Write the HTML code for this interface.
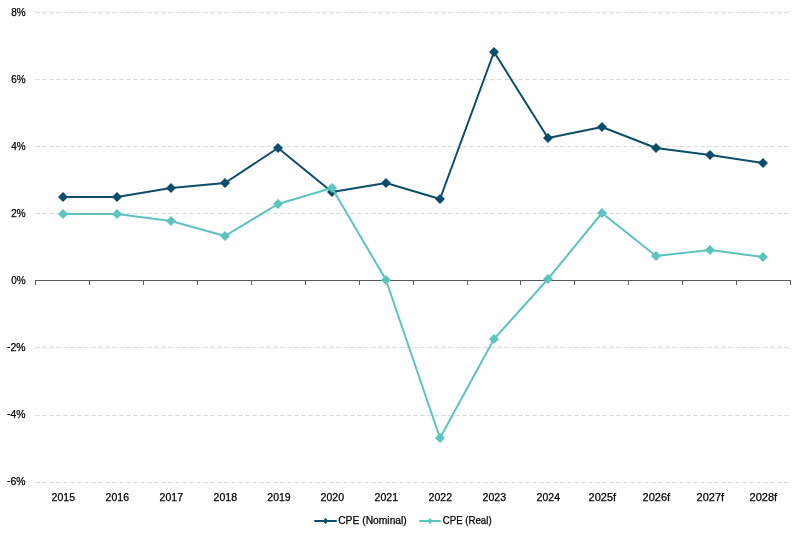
<!DOCTYPE html><html><head><meta charset="utf-8"><title>CPE chart</title><style>html,body{margin:0;padding:0;background:#fff}svg{display:block}text{font-family:"Liberation Sans",sans-serif;font-size:10.6px;fill:#000;stroke:#000;stroke-width:0.25px}</style></head><body>
<svg width="802" height="538" viewBox="0 0 802 538">
<rect width="802" height="538" fill="#fff"/>
<line x1="35.25" y1="12.5" x2="791" y2="12.5" stroke="#d9d9d9" stroke-width="1" stroke-dasharray="4.5 2.5"/>
<line x1="35.25" y1="79.5" x2="791" y2="79.5" stroke="#d9d9d9" stroke-width="1" stroke-dasharray="4.5 2.5"/>
<line x1="35.25" y1="146.5" x2="791" y2="146.5" stroke="#d9d9d9" stroke-width="1" stroke-dasharray="4.5 2.5"/>
<line x1="35.25" y1="213.5" x2="791" y2="213.5" stroke="#d9d9d9" stroke-width="1" stroke-dasharray="4.5 2.5"/>
<line x1="35.25" y1="347.5" x2="791" y2="347.5" stroke="#d9d9d9" stroke-width="1" stroke-dasharray="4.5 2.5"/>
<line x1="35.25" y1="415.5" x2="791" y2="415.5" stroke="#d9d9d9" stroke-width="1" stroke-dasharray="4.5 2.5"/>
<line x1="35.25" y1="482.5" x2="791" y2="482.5" stroke="#d9d9d9" stroke-width="1" stroke-dasharray="4.5 2.5"/>
<line x1="35.0" y1="280.5" x2="791.0" y2="280.5" stroke="#595959" stroke-width="1"/>
<line x1="35.50" y1="280.5" x2="35.50" y2="285.0" stroke="#595959" stroke-width="1"/>
<line x1="89.50" y1="280.5" x2="89.50" y2="285.0" stroke="#595959" stroke-width="1"/>
<line x1="143.50" y1="280.5" x2="143.50" y2="285.0" stroke="#595959" stroke-width="1"/>
<line x1="197.50" y1="280.5" x2="197.50" y2="285.0" stroke="#595959" stroke-width="1"/>
<line x1="251.50" y1="280.5" x2="251.50" y2="285.0" stroke="#595959" stroke-width="1"/>
<line x1="305.50" y1="280.5" x2="305.50" y2="285.0" stroke="#595959" stroke-width="1"/>
<line x1="359.50" y1="280.5" x2="359.50" y2="285.0" stroke="#595959" stroke-width="1"/>
<line x1="413.50" y1="280.5" x2="413.50" y2="285.0" stroke="#595959" stroke-width="1"/>
<line x1="467.50" y1="280.5" x2="467.50" y2="285.0" stroke="#595959" stroke-width="1"/>
<line x1="520.50" y1="280.5" x2="520.50" y2="285.0" stroke="#595959" stroke-width="1"/>
<line x1="574.50" y1="280.5" x2="574.50" y2="285.0" stroke="#595959" stroke-width="1"/>
<line x1="628.50" y1="280.5" x2="628.50" y2="285.0" stroke="#595959" stroke-width="1"/>
<line x1="682.50" y1="280.5" x2="682.50" y2="285.0" stroke="#595959" stroke-width="1"/>
<line x1="736.50" y1="280.5" x2="736.50" y2="285.0" stroke="#595959" stroke-width="1"/>
<line x1="790.50" y1="280.5" x2="790.50" y2="285.0" stroke="#595959" stroke-width="1"/>
<text x="25.6" y="16.0" text-anchor="end" textLength="14.4" lengthAdjust="spacingAndGlyphs">8%</text>
<text x="25.6" y="83.0" text-anchor="end" textLength="14.4" lengthAdjust="spacingAndGlyphs">6%</text>
<text x="25.6" y="150.0" text-anchor="end" textLength="14.4" lengthAdjust="spacingAndGlyphs">4%</text>
<text x="25.6" y="217.0" text-anchor="end" textLength="14.4" lengthAdjust="spacingAndGlyphs">2%</text>
<text x="25.6" y="284.0" text-anchor="end" textLength="14.4" lengthAdjust="spacingAndGlyphs">0%</text>
<text x="25.6" y="351.0" text-anchor="end" textLength="18.5" lengthAdjust="spacingAndGlyphs"><tspan dy="-1.2">-</tspan><tspan dy="1.2">2%</tspan></text>
<text x="25.6" y="418.0" text-anchor="end" textLength="18.5" lengthAdjust="spacingAndGlyphs"><tspan dy="-1.2">-</tspan><tspan dy="1.2">4%</tspan></text>
<text x="25.6" y="485.0" text-anchor="end" textLength="18.5" lengthAdjust="spacingAndGlyphs"><tspan dy="-1.2">-</tspan><tspan dy="1.2">6%</tspan></text>
<text x="63.3" y="501" text-anchor="middle" textLength="23.4" lengthAdjust="spacingAndGlyphs">2015</text>
<text x="117.3" y="501" text-anchor="middle" textLength="23.4" lengthAdjust="spacingAndGlyphs">2016</text>
<text x="171.3" y="501" text-anchor="middle" textLength="23.4" lengthAdjust="spacingAndGlyphs">2017</text>
<text x="225.3" y="501" text-anchor="middle" textLength="23.4" lengthAdjust="spacingAndGlyphs">2018</text>
<text x="279.0" y="501" text-anchor="middle" textLength="23.4" lengthAdjust="spacingAndGlyphs">2019</text>
<text x="332.3" y="501" text-anchor="middle" textLength="23.4" lengthAdjust="spacingAndGlyphs">2020</text>
<text x="386.3" y="501" text-anchor="middle" textLength="23.4" lengthAdjust="spacingAndGlyphs">2021</text>
<text x="440.3" y="501" text-anchor="middle" textLength="23.4" lengthAdjust="spacingAndGlyphs">2022</text>
<text x="494.3" y="501" text-anchor="middle" textLength="23.4" lengthAdjust="spacingAndGlyphs">2023</text>
<text x="548.3" y="501" text-anchor="middle" textLength="23.4" lengthAdjust="spacingAndGlyphs">2024</text>
<text x="602.3" y="501" text-anchor="middle" textLength="27.6" lengthAdjust="spacingAndGlyphs">2025f</text>
<text x="656.3" y="501" text-anchor="middle" textLength="27.6" lengthAdjust="spacingAndGlyphs">2026f</text>
<text x="710.3" y="501" text-anchor="middle" textLength="27.6" lengthAdjust="spacingAndGlyphs">2027f</text>
<text x="763.3" y="501" text-anchor="middle" textLength="27.6" lengthAdjust="spacingAndGlyphs">2028f</text>
<polyline points="63.0,197.0 117.0,197.0 171.0,188.0 225.0,183.0 278.0,148.0 332.0,192.0 386.0,183.0 440.0,199.0 494.0,52.0 548.0,138.0 602.0,127.0 656.0,148.0 710.0,155.0 763.0,163.0" fill="none" stroke="#0b4d6b" stroke-width="2" stroke-linejoin="round" stroke-linecap="round"/>
<path d="M58.0 197.0L63.0 192.0L68.0 197.0L63.0 202.0Z" fill="#0b4d6b"/>
<path d="M112.0 197.0L117.0 192.0L122.0 197.0L117.0 202.0Z" fill="#0b4d6b"/>
<path d="M166.0 188.0L171.0 183.0L176.0 188.0L171.0 193.0Z" fill="#0b4d6b"/>
<path d="M220.0 183.0L225.0 178.0L230.0 183.0L225.0 188.0Z" fill="#0b4d6b"/>
<path d="M273.0 148.0L278.0 143.0L283.0 148.0L278.0 153.0Z" fill="#0b4d6b"/>
<path d="M327.0 192.0L332.0 187.0L337.0 192.0L332.0 197.0Z" fill="#0b4d6b"/>
<path d="M381.0 183.0L386.0 178.0L391.0 183.0L386.0 188.0Z" fill="#0b4d6b"/>
<path d="M435.0 199.0L440.0 194.0L445.0 199.0L440.0 204.0Z" fill="#0b4d6b"/>
<path d="M489.0 52.0L494.0 47.0L499.0 52.0L494.0 57.0Z" fill="#0b4d6b"/>
<path d="M543.0 138.0L548.0 133.0L553.0 138.0L548.0 143.0Z" fill="#0b4d6b"/>
<path d="M597.0 127.0L602.0 122.0L607.0 127.0L602.0 132.0Z" fill="#0b4d6b"/>
<path d="M651.0 148.0L656.0 143.0L661.0 148.0L656.0 153.0Z" fill="#0b4d6b"/>
<path d="M705.0 155.0L710.0 150.0L715.0 155.0L710.0 160.0Z" fill="#0b4d6b"/>
<path d="M758.0 163.0L763.0 158.0L768.0 163.0L763.0 168.0Z" fill="#0b4d6b"/>
<polyline points="63.0,214.0 117.0,214.0 171.0,221.0 225.0,236.0 278.0,204.0 332.0,188.0 386.0,280.0 440.0,438.0 494.0,339.0 548.0,279.0 602.0,213.0 656.0,256.0 710.0,250.0 763.0,257.0" fill="none" stroke="#5cc3bf" stroke-width="2" stroke-linejoin="round" stroke-linecap="round"/>
<path d="M58.0 214.0L63.0 209.0L68.0 214.0L63.0 219.0Z" fill="#5cc3bf"/>
<path d="M112.0 214.0L117.0 209.0L122.0 214.0L117.0 219.0Z" fill="#5cc3bf"/>
<path d="M166.0 221.0L171.0 216.0L176.0 221.0L171.0 226.0Z" fill="#5cc3bf"/>
<path d="M220.0 236.0L225.0 231.0L230.0 236.0L225.0 241.0Z" fill="#5cc3bf"/>
<path d="M273.0 204.0L278.0 199.0L283.0 204.0L278.0 209.0Z" fill="#5cc3bf"/>
<path d="M327.0 188.0L332.0 183.0L337.0 188.0L332.0 193.0Z" fill="#5cc3bf"/>
<path d="M381.0 280.0L386.0 275.0L391.0 280.0L386.0 285.0Z" fill="#5cc3bf"/>
<path d="M435.0 438.0L440.0 433.0L445.0 438.0L440.0 443.0Z" fill="#5cc3bf"/>
<path d="M489.0 339.0L494.0 334.0L499.0 339.0L494.0 344.0Z" fill="#5cc3bf"/>
<path d="M543.0 279.0L548.0 274.0L553.0 279.0L548.0 284.0Z" fill="#5cc3bf"/>
<path d="M597.0 213.0L602.0 208.0L607.0 213.0L602.0 218.0Z" fill="#5cc3bf"/>
<path d="M651.0 256.0L656.0 251.0L661.0 256.0L656.0 261.0Z" fill="#5cc3bf"/>
<path d="M705.0 250.0L710.0 245.0L715.0 250.0L710.0 255.0Z" fill="#5cc3bf"/>
<path d="M758.0 257.0L763.0 252.0L768.0 257.0L763.0 262.0Z" fill="#5cc3bf"/>
<line x1="315" y1="521" x2="336" y2="521" stroke="#0b4d6b" stroke-width="2" stroke-linecap="round"/>
<path d="M323.0 521L325.5 517.8L328.0 521L325.5 524.2Z" fill="#0b4d6b"/>
<text x="338.2" y="524" textLength="68.6" lengthAdjust="spacingAndGlyphs">CPE (Nominal)</text>
<line x1="420" y1="521" x2="440" y2="521" stroke="#5cc3bf" stroke-width="2" stroke-linecap="round"/>
<path d="M427.5 521L430.0 517.8L432.5 521L430.0 524.2Z" fill="#5cc3bf"/>
<text x="442.8" y="524" textLength="48.8" lengthAdjust="spacingAndGlyphs">CPE (Real)</text>
</svg></body></html>
